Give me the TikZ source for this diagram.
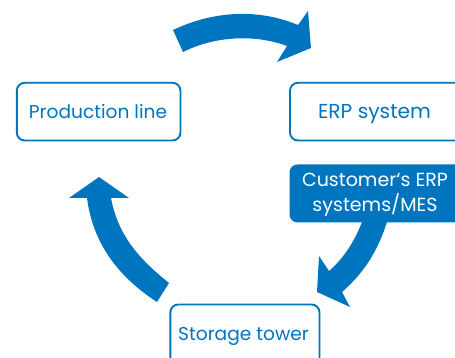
\documentclass[tikz,border=0pt]{standalone}
\usepackage{fontspec}
\setmainfont{Poppins}[Scale=1]
\definecolor{brandblue}{HTML}{0075BF}
\tikzset{
  framebox/.style={draw=brandblue,line width=1.9pt,rounded corners=8pt,fill=white},
  filledbox/.style={fill=brandblue,rounded corners=8pt},
  boxlabel/.style={text=brandblue,font=\fontsize{18.6}{22}\selectfont,inner sep=0pt,anchor=base},
  bandlabel/.style={text=white,font=\fontsize{19}{25}\selectfont,inner sep=0pt,align=center},
  blockarrow/.style={fill=brandblue}
}
\begin{document}
\begin{tikzpicture}[x=1pt,y=-1pt]
\useasboundingbox (0,0) rectangle (455,358);
\clip (0,0) rectangle (455,358);
% block arrows
\fill[blockarrow] (173,30) .. controls (215,10) and (260,9) .. (298,25) -- (308,11) -- (311,48) -- (277,62) -- (287,46) .. controls (255,34) and (215,36) .. (183,52) -- cycle;
\fill[blockarrow] (362,222) .. controls (355,240) and (345,257) .. (329,271) -- (319,256) -- (317,292) -- (350,307) -- (342,292) .. controls (365,272) and (378,250) .. (387,222) -- cycle;
\fill[blockarrow] (169,283) .. controls (138,258) and (118,235) .. (111,198) -- (129,198) -- (99,177) -- (69,198) -- (87,198) .. controls (93,245) and (120,278) .. (157,302) -- cycle;
% boxes
\draw[framebox] (16.8,82.8) rectangle (180.5,140.5);
\node[boxlabel] (prod) at (98,119) {Production line};
\draw[framebox] (290,82.8) rectangle (470,140.5);
\node[boxlabel,font=\fontsize{20.2}{22}\selectfont] (erp) at (374.5,119) {ERP system};
\fill[filledbox] (289.5,164.5) rectangle (470,222.5);
\node[bandlabel] (cust) at (375,194.5) {Customer‘s ERP\\systems/MES};
\draw[framebox] (170.3,304.5) rectangle (319.5,375);
\node[boxlabel] (store) at (243.5,340) {Storage tower};
\end{tikzpicture}
\end{document}
